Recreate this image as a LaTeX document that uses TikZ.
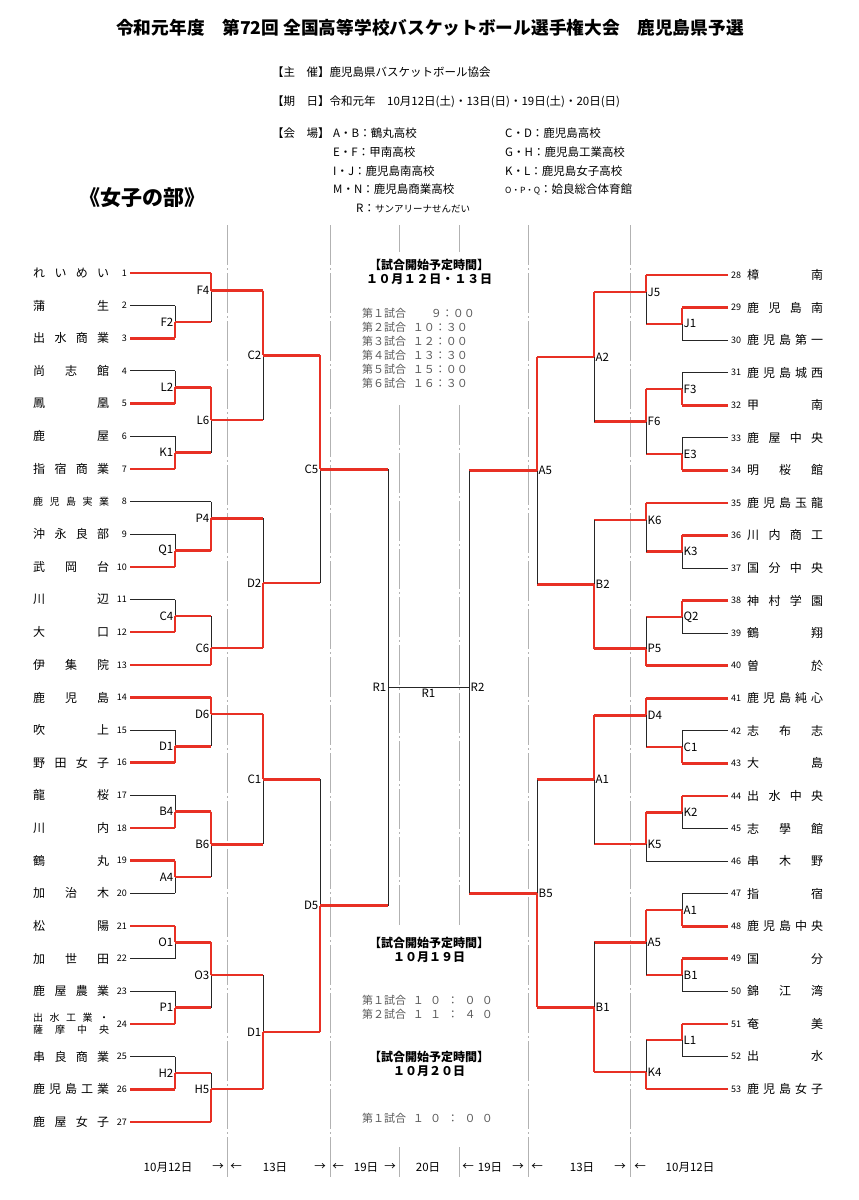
\documentclass[tikz,border=0pt]{standalone}
\usepackage{fontspec}
\setmainfont{Noto Sans CJK JP}
\usetikzlibrary{calc}
\definecolor{winred}{RGB}{232,48,36}
% spread the characters of a name over a fixed box
\def\spreadi#1{\ifx#1\relax\else #1\expandafter\spreadnext\fi}
\def\spreadnext#1{\ifx#1\relax\else\hfil #1\expandafter\spreadnext\fi}
\newcommand\spread[2][76pt]{\hbox to #1{\spreadi#2\relax}}
\tikzset{
  win/.style={winred, line width=2.6pt},
  lose/.style={black!85, line width=1pt},
  divider/.style={gray!60, line width=1pt, dash pattern=on 40pt off 3pt on 2pt off 3pt},
  tname/.style={inner sep=0pt, anchor=west, font=\fontsize{12}{14}\selectfont},
  tnum/.style={inner sep=1pt, font=\fontsize{9}{10}\selectfont},
  glab/.style={inner sep=1.5pt, font=\fontsize{11.5}{12}\selectfont},
  info/.style={inner sep=0pt, anchor=west, font=\fontsize{11.5}{13}\selectfont},
  sched/.style={inner sep=0pt, font=\fontsize{11}{13}\selectfont, black!65},
  shead/.style={inner sep=0pt, font=\fontsize{12}{14}\selectfont\bfseries},
  % teams that lost their first game
  h t2/.style=lose, h t4/.style=lose, h t6/.style=lose, h t8/.style=lose,
  h t9/.style=lose, h t11/.style=lose, h t15/.style=lose, h t17/.style=lose,
  h t20/.style=lose, h t22/.style=lose, h t23/.style=lose, h t25/.style=lose,
  h t30/.style=lose, h t31/.style=lose, h t33/.style=lose, h t37/.style=lose,
  h t39/.style=lose, h t42/.style=lose, h t45/.style=lose, h t46/.style=lose,
  h t47/.style=lose, h t50/.style=lose, h t52/.style=lose,
}
% #1 name, #2 label, #3 vertical, #4 top, #5 bottom, #6 fraction, #7 winner
\newcommand\game[7]{%
  \coordinate (#1) at ($(#4)!#6!(#5)$);
  \coordinate (#1) at (#1 -| #3);
  \draw[win, h #4/.try] (#4) -- (#4 -| #1);
  \draw[win, h #5/.try] (#5) -- (#5 -| #1);
  \draw[lose] (#4 -| #1) -- (#5 -| #1);
  \draw[win] (#7 -| #1) -- (#1);
  \node[glab] (#1l) at (#1) {#2};}
\begin{document}
\begin{tikzpicture}[x=1pt, y=-1pt]
\useasboundingbox (0,0) rectangle (859,1200);
%%%%%%%%%%%%% header
\node[font=\fontsize{17.7}{20}\selectfont\bfseries] (title) at (430,28) {令和元年度\quad 第72回 全国高等学校バスケットボール選手権大会\quad 鹿児島県予選};
\node[info] (h1) at (272,72) {【主　催】鹿児島県バスケットボール協会};
\node[info] (h2) at (272,102) {【期　日】令和元年\quad 10月12日(土)・13日(日)・19日(土)・20日(日)};
\node[info] (h3) at (272,133) {【会　場】};
\node[info] (va1) at (333,133) {A・B：鶴丸高校};
\node[info] (va2) at (333,152) {E・F：甲南高校};
\node[info] (va3) at (333,171) {I・J：鹿児島南高校};
\node[info] (va4) at (333,189) {M・N：鹿児島商業高校};
\node[info] (va5) at (356,209) {R：{\fontsize{9.5}{10}\selectfont サンアリーナせんだい}};
\node[info] (vb1) at (505,133) {C・D：鹿児島高校};
\node[info] (vb2) at (505,152) {G・H：鹿児島工業高校};
\node[info] (vb3) at (505,171) {K・L：鹿児島女子高校};
\node[info] (vb4) at (505,189) {{\fontsize{8.5}{9}\selectfont O・P・Q}：姶良総合体育館};
\node[font=\fontsize{21}{23}\selectfont\bfseries] (part) at (142,198) {《女子の部》};
%%%%%%%%%%%%% day dividers
\foreach \x in {227,330,528,630} \draw[divider] (\x,225) -- (\x,1177);
\foreach \x in {399,459} {
  \draw[divider] (\x,225) -- (\x,252);
  \draw[divider] (\x,405) -- (\x,925);
  \draw[divider] (\x,1147) -- (\x,1177);
}
%%%%%%%%%%%%% schedule
\node[shead] (s1) at (429,265) {【試合開始予定時間】};
\node[shead] (s1d) at (429,279) {\spread[126pt]{１０月１２日・１３日}};
\foreach \i/\w/\tm [count=\n] in {１/62pt/９：００,２/80pt/１０：３０,３/80pt/１２：００,４/80pt/１３：３０,５/80pt/１５：００,６/80pt/１６：３０} {
  \node[sched, anchor=west] (g\n) at (362,{299+14*\n}) {第\i 試合};
  \node[sched, anchor=east] (tm\n) at (493,{299+14*\n}) {\expandafter\spread\expandafter[\w]{\tm}};
}
\node[shead] (s2) at (429,943) {【試合開始予定時間】};
\node[shead] (s2d) at (429,957) {\spread[72pt]{１０月１９日}};
\node[sched, anchor=west] (g7) at (362,1000) {第１試合};
\node[sched, anchor=east] (tm7) at (493,1000) {\spread[80pt]{１０：００}};
\node[sched, anchor=west] (g8) at (362,1014) {第２試合};
\node[sched, anchor=east] (tm8) at (493,1014) {\spread[80pt]{１１：４０}};
\node[shead] (s3) at (429,1057) {【試合開始予定時間】};
\node[shead] (s3d) at (429,1071) {\spread[72pt]{１０月２０日}};
\node[sched, anchor=west] (g9) at (362,1118) {第１試合};
\node[sched, anchor=east] (tm9) at (493,1118) {\spread[80pt]{１０：００}};
%%%%%%%%%%%%% day labels
\foreach \x/\t in {168/10月12日, 218/→, 236/←, 275/13日, 320/→, 338/←, 366/19日, 390/→, 428/20日, 468/←, 490/19日, 518/→, 537/←, 582/13日, 620/→, 640/←, 690/10月12日}
  \node[glab] at (\x,1167) {\t};
%%%%%%%%%%%%% teams
\coordinate (v1) at (175,0); \coordinate (v2) at (211,0); \coordinate (v3) at (263,0);
\coordinate (v4) at (320,0); \coordinate (v5) at (388,0);
\coordinate (w1) at (682,0); \coordinate (w2) at (646,0); \coordinate (w3) at (594,0);
\coordinate (w4) at (537,0); \coordinate (w5) at (469,0);
\foreach \k in {1,...,27} \coordinate (t\k) at (130,{273+(\k-1)*32.65});
\foreach \k in {28,...,53} \coordinate (t\k) at (728,{275+(\k-28)*32.56});
\foreach \k/\n in {1/れいめい,2/蒲生,3/出水商業,4/尚志館,5/鳳凰,6/鹿屋,7/指宿商業,9/沖永良部,10/武岡台,11/川辺,12/大口,13/伊集院,14/鹿児島,15/吹上,16/野田女子,17/龍桜,18/川内,19/鶴丸,20/加治木,21/松陽,22/加世田,23/鹿屋農業,25/串良商業,26/鹿児島工業,27/鹿屋女子}
  \node[tname] (n\k) at (t\k -| 33,0) {\expandafter\spread\expandafter{\n}};
\node[tname, font=\fontsize{10}{12}\selectfont] (n8) at (t8 -| 33,0) {\spread{鹿児島実業}};
\node[tname, font=\fontsize{10}{11}\selectfont, align=left] (n24) at (t24 -| 33,0) {\spread{出水工業・}\\[1pt]\spread{薩摩中央}};
\foreach \k/\n in {28/樟南,29/鹿児島南,30/鹿児島第一,31/鹿児島城西,32/甲南,33/鹿屋中央,34/明桜館,35/鹿児島玉龍,36/川内商工,37/国分中央,38/神村学園,39/鶴翔,40/曽於,41/鹿児島純心,42/志布志,43/大島,44/出水中央,45/志學館,46/串木野,47/指宿,48/鹿児島中央,49/国分,50/錦江湾,51/奄美,52/出水,53/鹿児島女子}
  \node[tname] (n\k) at (t\k -| 747,0) {\expandafter\spread\expandafter{\n}};
\foreach \k in {1,...,27} \node[tnum, anchor=east] (m\k) at ($(t\k)+(-2,0)$) {\k};
\foreach \k in {28,...,53} \node[tnum, anchor=west] (m\k) at ($(t\k)+(2,0)$) {\k};
%%%%%%%%%%%%% left bracket
\begin{scope}[glab/.append style={anchor=east}]
\game{lF2}{F2}{v1}{t2}{t3}{.5}{t3}
\game{lL2}{L2}{v1}{t4}{t5}{.5}{t5}
\game{lK1}{K1}{v1}{t6}{t7}{.5}{t7}
\game{lQ1}{Q1}{v1}{t9}{t10}{.5}{t10}
\game{lC4}{C4}{v1}{t11}{t12}{.5}{t12}
\game{lD1}{D1}{v1}{t15}{t16}{.5}{t16}
\game{lB4}{B4}{v1}{t17}{t18}{.5}{t18}
\game{lA4}{A4}{v1}{t19}{t20}{.5}{t19}
\game{lO1}{O1}{v1}{t21}{t22}{.5}{t21}
\game{lP1}{P1}{v1}{t23}{t24}{.5}{t24}
\game{lH2}{H2}{v1}{t25}{t26}{.5}{t26}
\game{lF4}{F4}{v2}{t1}{lF2}{.36}{t1}
\game{lL6}{L6}{v2}{lL2}{lK1}{.5}{lL2}
\game{lP4}{P4}{v2}{t8}{lQ1}{.34}{lQ1}
\game{lC6}{C6}{v2}{lC4}{t13}{.66}{t13}
\game{lD6}{D6}{v2}{t14}{lD1}{.34}{t14}
\game{lB6}{B6}{v2}{lB4}{lA4}{.5}{lB4}
\game{lO3}{O3}{v2}{lO1}{lP1}{.5}{lO1}
\game{lH5}{H5}{v2}{lH2}{t27}{.33}{t27}
\game{lC2}{C2}{v3}{lF4}{lL6}{.5}{lF4}
\game{lD2}{D2}{v3}{lP4}{lC6}{.5}{lC6}
\game{lC1}{C1}{v3}{lD6}{lB6}{.5}{lD6}
\game{lD1b}{D1}{v3}{lO3}{lH5}{.5}{lH5}
\game{lC5}{C5}{v4}{lC2}{lD2}{.5}{lC2}
\game{lD5}{D5}{v4}{lC1}{lD1b}{.5}{lD1b}
\end{scope}
%%%%%%%%%%%%% right bracket
\begin{scope}[glab/.append style={anchor=west}]
\game{rJ1}{J1}{w1}{t29}{t30}{.5}{t29}
\game{rF3}{F3}{w1}{t31}{t32}{.5}{t32}
\game{rE3}{E3}{w1}{t33}{t34}{.5}{t34}
\game{rK3}{K3}{w1}{t36}{t37}{.5}{t36}
\game{rQ2}{Q2}{w1}{t38}{t39}{.5}{t38}
\game{rC1}{C1}{w1}{t42}{t43}{.5}{t43}
\game{rK2}{K2}{w1}{t44}{t45}{.5}{t44}
\game{rA1}{A1}{w1}{t47}{t48}{.5}{t48}
\game{rB1}{B1}{w1}{t49}{t50}{.5}{t49}
\game{rL1}{L1}{w1}{t51}{t52}{.5}{t51}
\game{rJ5}{J5}{w2}{t28}{rJ1}{.35}{t28}
\game{rF6}{F6}{w2}{rF3}{rE3}{.5}{rF3}
\game{rK6}{K6}{w2}{t35}{rK3}{.35}{t35}
\game{rP5}{P5}{w2}{rQ2}{t40}{.65}{t40}
\game{rD4}{D4}{w2}{t41}{rC1}{.35}{t41}
\game{rK5}{K5}{w2}{rK2}{t46}{.65}{rK2}
\game{rA5b}{A5}{w2}{rA1}{rB1}{.5}{rA1}
\game{rK4}{K4}{w2}{rL1}{t53}{.65}{t53}
\game{rA2}{A2}{w3}{rJ5}{rF6}{.5}{rJ5}
\game{rB2}{B2}{w3}{rK6}{rP5}{.5}{rP5}
\game{rA1b}{A1}{w3}{rD4}{rK5}{.5}{rD4}
\game{rB1b}{B1}{w3}{rA5b}{rK4}{.5}{rK4}
\game{rA5}{A5}{w4}{rA2}{rB2}{.5}{rA2}
\game{rB5}{B5}{w4}{rA1b}{rB1b}{.5}{rB1b}
\end{scope}
%%%%%%%%%%%%% final
\coordinate (lR1) at ($(lC5)!.5!(lD5)$); \coordinate (lR1) at (lR1 -| v5);
\coordinate (rR2) at (lR1 -| w5);
\draw[win] (lC5) -- (lC5 -| lR1); \draw[win] (lD5) -- (lD5 -| lR1);
\draw[win] (rA5) -- (rA5 -| rR2); \draw[win] (rB5) -- (rB5 -| rR2);
\draw[lose] (lC5 -| lR1) -- (lD5 -| lR1);
\draw[lose] (rA5 -| rR2) -- (rB5 -| rR2);
\draw[lose] (lR1) -- (rR2);
\node[glab, anchor=east] (lR1l) at (lR1) {R1};
\node[glab, anchor=west] (rR2l) at (rR2) {R2};
\node[glab, anchor=north] (fin) at ($(lR1)!.5!(rR2)$) {R1};
\end{tikzpicture}
\end{document}
